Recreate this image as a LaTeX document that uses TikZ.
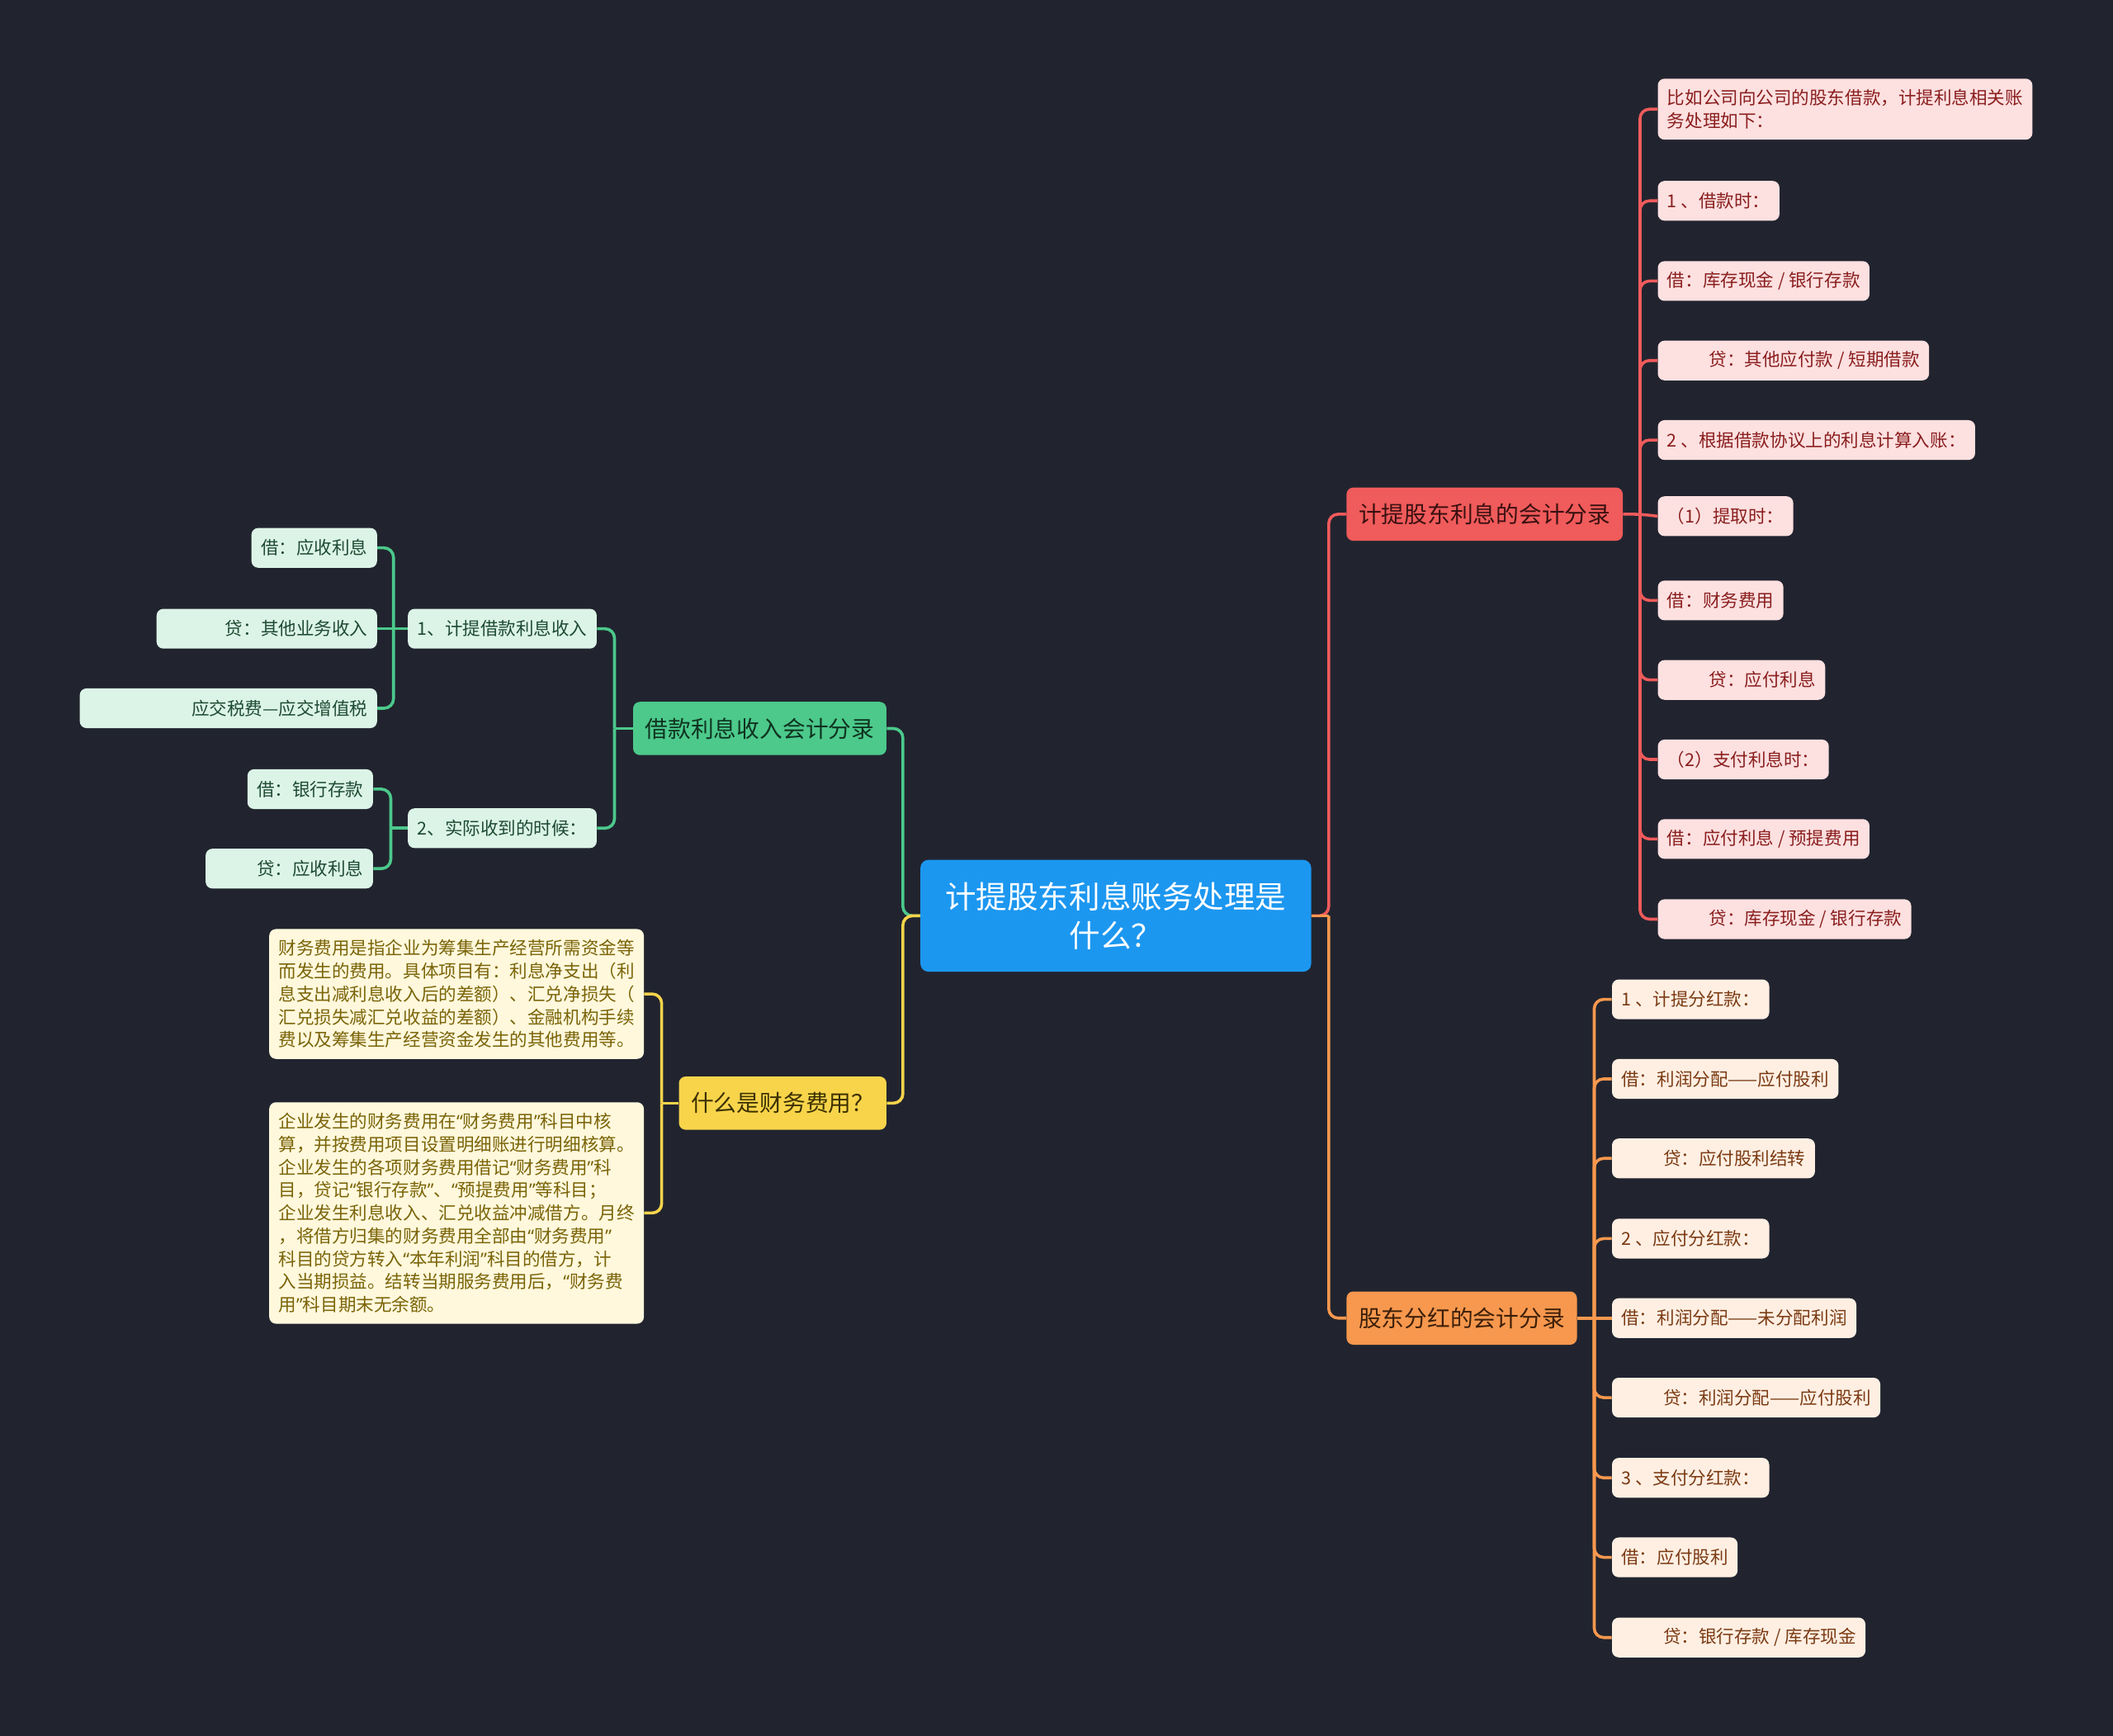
\documentclass[tikz,border=0pt]{standalone}
\usepackage{fontspec}
\setmainfont{Noto Sans CJK SC}
\newfontfamily\quotefont{Noto Sans}
\newcommand\oq{{\quotefont “}}
\newcommand\cq{{\quotefont ”}}
\definecolor{bg}{HTML}{21242F}
\definecolor{rootc}{HTML}{1C97F0}
\definecolor{redc}{HTML}{F05B5B}
\definecolor{redf}{HTML}{FDE0E0}
\definecolor{redt}{HTML}{8A1E1E}
\definecolor{redbt}{HTML}{3A1010}
\definecolor{orc}{HTML}{F7984E}
\definecolor{orf}{HTML}{FFEFE3}
\definecolor{ort}{HTML}{7A3A12}
\definecolor{orbt}{HTML}{3D1F08}
\definecolor{grc}{HTML}{4CC98B}
\definecolor{grf}{HTML}{DCF4E7}
\definecolor{grt}{HTML}{1E4A33}
\definecolor{grbt}{HTML}{0F3320}
\definecolor{yec}{HTML}{F8D44B}
\definecolor{yef}{HTML}{FFF8DC}
\definecolor{yet}{HTML}{7A6408}
\definecolor{yebt}{HTML}{3B3000}
\tikzset{
  leaf/.style={rounded corners=5pt, inner xsep=7pt, inner ysep=0pt, minimum height=29.5pt, font=\fontsize{13.2}{17}\selectfont},
  rleaf/.style={leaf, fill=redf, text=redt, anchor=west},
  oleaf/.style={leaf, fill=orf, text=ort, anchor=west},
  gleaf/.style={leaf, fill=grf, text=grt, anchor=east},
  yleaf/.style={leaf, fill=yef, text=yet, anchor=east, align=left, inner ysep=8pt},
  branch/.style={rounded corners=5pt, inner xsep=9pt, inner ysep=0pt, minimum height=39.5pt, font=\fontsize{17}{21}\selectfont},
  link/.style={line width=2.2pt, rounded corners=7pt},
}
\begin{document}
\begin{tikzpicture}[x=1pt,y=-1pt]
\fill[bg] (0,0) rectangle (1568,1288);
\useasboundingbox (0,0) rectangle (1568,1288);

% root
\node[fill=rootc, text=white, rounded corners=6pt, minimum width=290pt, minimum height=83pt, align=center, inner sep=0pt, font=\fontsize{23}{29}\selectfont] (root) at (828,679.5) {计提股东利息账务处理是\\什么？};

% branches
\node[branch, fill=redc, text=redbt, anchor=west] (red) at (999,381.5) {计提股东利息的会计分录};
\node[branch, fill=orc, text=orbt, anchor=west] (ora) at (999,978) {股东分红的会计分录};
\node[branch, fill=grc, text=grbt, anchor=east] (gre) at (658,540.5) {借款利息收入会计分录};
\node[branch, fill=yec, text=yebt, anchor=east] (yel) at (658,818.5) {什么是财务费用？};

% red leaves
\node[rleaf, align=left, inner ysep=8pt] (r1) at (1230,81) {比如公司向公司的股东借款，计提利息相关账\\务处理如下：};
\node[rleaf] (r2) at (1230,149) {1 、借款时：};
\node[rleaf] (r3) at (1230,208.5) {借：库存现金 / 银行存款};
\node[rleaf] (r4) at (1230,267.5) {\hspace*{31pt}贷：其他应付款 / 短期借款};
\node[rleaf] (r5) at (1230,326.5) {2 、根据借款协议上的利息计算入账：};
\node[rleaf] (r6) at (1230,383) {（1）提取时：};
\node[rleaf] (r7) at (1230,445.5) {借：财务费用};
\node[rleaf] (r8) at (1230,504.5) {\hspace*{31pt}贷：应付利息};
\node[rleaf] (r9) at (1230,563.5) {（2）支付利息时：};
\node[rleaf] (r10) at (1230,622.5) {借：应付利息 / 预提费用};
\node[rleaf] (r11) at (1230,682) {\hspace*{31pt}贷：库存现金 / 银行存款};

% orange leaves
\node[oleaf] (o1) at (1196,741.5) {1 、计提分红款：};
\node[oleaf] (o2) at (1196,800.5) {借：利润分配——应付股利};
\node[oleaf] (o3) at (1196,859.5) {\hspace*{31pt}贷：应付股利结转};
\node[oleaf] (o4) at (1196,919) {2 、应付分红款：};
\node[oleaf] (o5) at (1196,978) {借：利润分配——未分配利润};
\node[oleaf] (o6) at (1196,1037) {\hspace*{31pt}贷：利润分配——应付股利};
\node[oleaf] (o7) at (1196,1096.5) {3 、支付分红款：};
\node[oleaf] (o8) at (1196,1155.5) {借：应付股利};
\node[oleaf] (o9) at (1196,1215) {\hspace*{31pt}贷：银行存款 / 库存现金};

% green leaves
\node[gleaf] (ga) at (443,466.5) {1、计提借款利息收入};
\node[gleaf] (gb) at (443,614.5) {2、实际收到的时候：};
\node[gleaf] (ga1) at (280,406.5) {借：应收利息};
\node[gleaf] (ga2) at (280,466.5) {\hspace*{44pt}贷：其他业务收入};
\node[gleaf] (ga3) at (280,525.5) {\hspace*{76pt}应交税费—应交增值税};
\node[gleaf] (gb1) at (277,585.5) {借：银行存款};
\node[gleaf] (gb2) at (277,644.5) {\hspace*{31pt}贷：应收利息};

% yellow leaves
\node[yleaf] (y1) at (478,737.5) {财务费用是指企业为筹集生产经营所需资金等\\而发生的费用。具体项目有：利息净支出（利\\息支出减利息收入后的差额）、汇兑净损失（\\汇兑损失减汇兑收益的差额）、金融机构手续\\费以及筹集生产经营资金发生的其他费用等。};
\node[yleaf] (y2) at (478,900) {企业发生的财务费用在\oq 财务费用\cq 科目中核\\算，并按费用项目设置明细账进行明细核算。\\企业发生的各项财务费用借记\oq 财务费用\cq 科\\目，贷记\oq 银行存款\cq 、\oq 预提费用\cq 等科目；\\企业发生利息收入、汇兑收益冲减借方。月终\\，将借方归集的财务费用全部由\oq 财务费用\cq \\科目的贷方转入\oq 本年利润\cq 科目的借方，计\\入当期损益。结转当期服务费用后，\oq 财务费\\用\cq 科目期末无余额。};

% junctions
\coordinate (jRootR) at (986,679.5);
\coordinate (jRootL) at (670,679.5);
\coordinate (jR) at (1217,381.5);
\coordinate (jO) at (1183,978);
\coordinate (jG) at (456,540.5);
\coordinate (jGa) at (292,466.5);
\coordinate (jGb) at (290,614.5);
\coordinate (jY) at (491,818.5);

% root links
\draw[link, redc] (root.east) -- (jRootR) |- (red.west);
\draw[link, orc] (jRootR) |- (ora.west);
\draw[link, orc] (root.east) -- (jRootR);
\draw[link, grc] (root.west) -- (jRootL) |- (gre.east);
\draw[link, yec] (root.west) -- (jRootL) |- (yel.east);

% red links
\draw[link, redc] (red.east) -- (jR) -- (r6.west);
\foreach \n in {r1,r2,r3,r4,r5,r7,r8,r9,r10,r11}
  \draw[link, redc] (jR) |- (\n.west);

% orange links
\draw[link, orc] (ora.east) -- (jO) -- (o5.west);
\foreach \n in {o1,o2,o3,o4,o6,o7,o8,o9}
  \draw[link, orc] (jO) |- (\n.west);

% green links
\draw[link, grc] (gre.west) -- (jG);
\draw[link, grc] (jG) |- (ga.east);
\draw[link, grc] (jG) |- (gb.east);
\draw[link, grc] (ga.west) -- (jGa) -- (ga2.east);
\draw[link, grc] (jGa) |- (ga1.east);
\draw[link, grc] (jGa) |- (ga3.east);
\draw[link, grc] (gb.west) -- (jGb);
\draw[link, grc] (jGb) |- (gb1.east);
\draw[link, grc] (jGb) |- (gb2.east);

% yellow links
\draw[link, yec] (yel.west) -- (jY);
\draw[link, yec] (jY) |- (y1.east);
\draw[link, yec] (jY) |- (y2.east);
\end{tikzpicture}
\end{document}
